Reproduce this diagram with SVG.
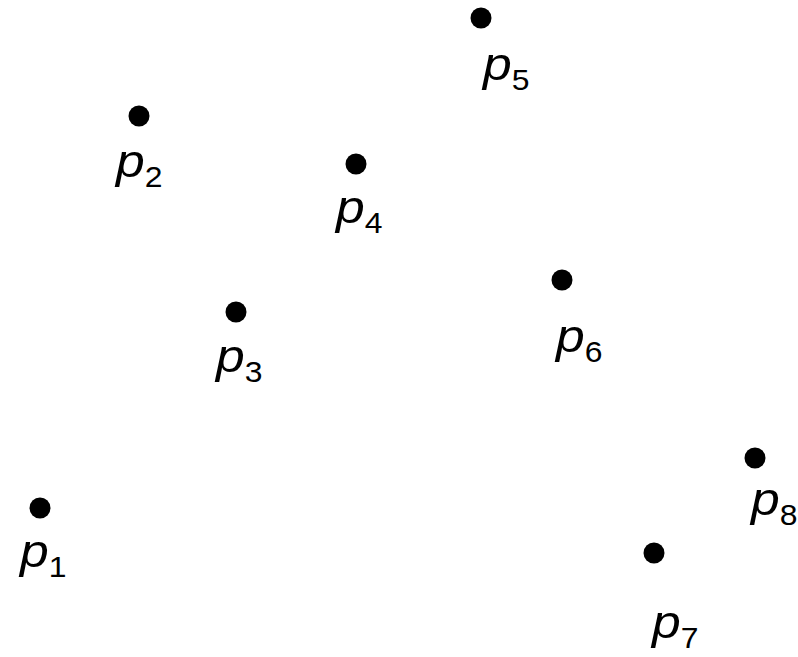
<svg xmlns="http://www.w3.org/2000/svg" width="798" height="657" viewBox="0 0 798 657">
<style>
.pt{fill:#000}
.lbl{font-family:"Liberation Sans",Arial,sans-serif;font-size:47px;font-style:italic;fill:#000}
.sub{font-style:normal;font-size:29px}
</style>
<rect width="798" height="657" fill="#fff"/>
<g id="connectors"/>
<g id="p1"><circle class="pt" cx="40" cy="508" r="10.5"/><text class="lbl" transform="translate(20,567) scale(1.1,1)">p<tspan class="sub" dy="10">1</tspan></text></g>
<g id="p2"><circle class="pt" cx="139" cy="116" r="10.5"/><text class="lbl" transform="translate(116,177) scale(1.1,1)">p<tspan class="sub" dy="10">2</tspan></text></g>
<g id="p3"><circle class="pt" cx="236" cy="312" r="10.5"/><text class="lbl" transform="translate(216,372) scale(1.1,1)">p<tspan class="sub" dy="10">3</tspan></text></g>
<g id="p4"><circle class="pt" cx="356" cy="164" r="10.5"/><text class="lbl" transform="translate(336,223) scale(1.1,1)">p<tspan class="sub" dy="10">4</tspan></text></g>
<g id="p5"><circle class="pt" cx="481" cy="18" r="10.5"/><text class="lbl" transform="translate(483,80) scale(1.1,1)">p<tspan class="sub" dy="10">5</tspan></text></g>
<g id="p6"><circle class="pt" cx="562" cy="280" r="10.5"/><text class="lbl" transform="translate(556,352) scale(1.1,1)">p<tspan class="sub" dy="10">6</tspan></text></g>
<g id="p7"><circle class="pt" cx="654" cy="553" r="10.5"/><text class="lbl" transform="translate(652,638) scale(1.1,1)">p<tspan class="sub" dy="10">7</tspan></text></g>
<g id="p8"><circle class="pt" cx="755" cy="458" r="10.5"/><text class="lbl" transform="translate(751,515) scale(1.1,1)">p<tspan class="sub" dy="10">8</tspan></text></g>
</svg>
